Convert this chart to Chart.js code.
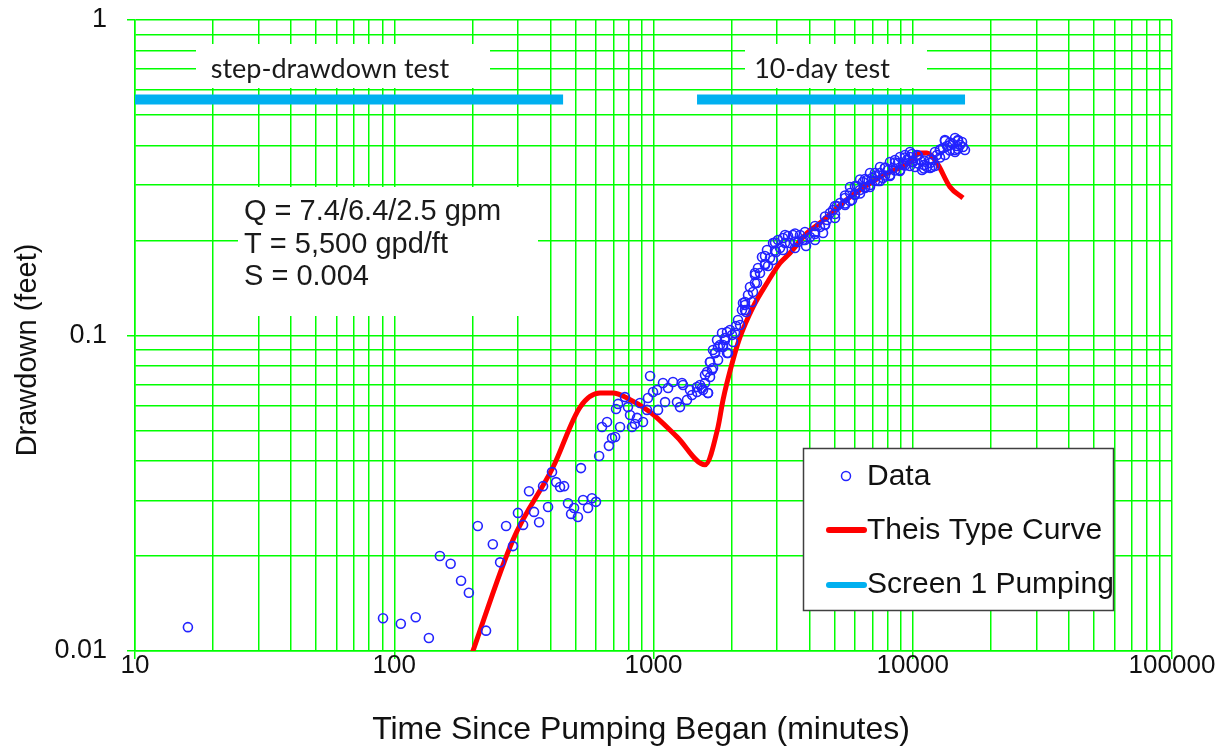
<!DOCTYPE html>
<html>
<head>
<meta charset="utf-8">
<script src="https://cdn.jsdelivr.net/npm/chart.js@4.4.1/dist/chart.umd.min.js"></script>
<style>
  html, body { margin: 0; padding: 0; background: #ffffff; }
  #wrap { position: relative; width: 1225px; height: 750px; }
  canvas { display: block; }
</style>
</head>
<body>
<div id="wrap"><canvas id="c" width="1225" height="750"></canvas></div>
<script>
// ---------------- data ----------------
const dataTime = [
  16.0, 90.5, 106, 121, 136, 150, 165, 181, 194, 210, 226, 240, 256, 270, 287, 300, 314, 331, 346, 362,
  375, 392, 406, 421, 436, 452, 468, 481, 494, 511, 525, 535, 559, 579, 600, 617, 633, 662, 673, 692,
  711, 717, 730, 743, 776, 797, 812, 826, 848, 864, 887, 911, 944, 970, 952, 996, 1041, 1032, 1088, 1138,
  1108, 1189, 1232, 1288, 1265, 1346, 1408, 1472, 1538, 1580, 1622, 1652, 1697, 1727, 1774, 1854, 1939, 2026,
  1300, 1383, 1472, 1552, 1580, 1623, 1608, 1652, 1652, 1696, 1727, 1758, 1774, 1838, 1854, 1921, 1921, 1973,
  2063, 2118, 2194, 2254, 2214, 2356, 2315, 2399, 2463, 2507, 2575, 2621, 2692, 2740, 2814, 2891, 2891, 3021,
  3159, 3159, 3303, 3452, 3514, 3609, 3773, 3875, 4015, 4198, 4387, 4507, 4669, 4795, 4925, 5104, 5242, 5480,
  5728, 5831, 6095, 6259, 6428, 6660, 6840, 7151, 7476, 7678, 8024, 8391, 8773, 9172, 9502, 9759, 10023, 10380,
  10670, 11050, 11350, 11660, 11970, 12400, 12740, 13080, 13560, 13920, 14300, 14820, 15220, 15620, 15900, 15490, 14560,
  5986, 6545, 6963, 7345, 7816, 8170, 8540, 8930, 9335, 10200, 10860, 11870, 13310, 14950,
  5013, 4587, 5480, 4198, 3674, 3362, 3076, 2969, 2765, 2530, 2420, 2274, 2157, 1887,
  2254, 2254, 2463, 2463, 2692, 2692, 2942, 2942, 3216, 3216, 3514, 3514, 3840, 3840, 4198, 4198,
  4587, 4587, 5013, 5013, 5480, 5480, 5986, 5986, 6545, 6545, 7151, 7151, 7816, 7816, 8540, 8540,
  9335, 9335, 9934, 9934, 10480, 10480, 11050, 11050, 11660, 11660, 12740, 12740, 13920, 13920, 14940, 14940,
  1512, 1681, 1805, 1887, 2008, 2081,
  5728, 5728, 6259, 6259, 6840, 6840, 7476, 7476, 8170, 8170, 8930, 8930, 9759, 9759, 12180, 12180, 13310, 13310, 14560, 14560
];
const dataDrawdown = [
  0.0119, 0.0127, 0.0122, 0.0128, 0.0110, 0.0200, 0.0189, 0.0167, 0.0153, 0.0249, 0.0116, 0.0218, 0.0191, 0.0249, 0.0215, 0.0274, 0.0251, 0.0321, 0.0276, 0.0256,
  0.0333, 0.0286, 0.0369, 0.0343, 0.0331, 0.0333, 0.0294, 0.0272, 0.0284, 0.0266, 0.0380, 0.0301, 0.0284, 0.0305, 0.0297, 0.0415, 0.0513, 0.0532, 0.0447, 0.0473,
  0.0477, 0.0585, 0.0607, 0.0513, 0.0638, 0.0593, 0.0560, 0.0513, 0.0524, 0.0548, 0.0611, 0.0532, 0.0581, 0.0744, 0.0634, 0.0662, 0.0581, 0.0672, 0.0707, 0.0682,
  0.0615, 0.0712, 0.0615, 0.0707, 0.0593, 0.0625, 0.0648, 0.0662, 0.0682, 0.0750, 0.0657, 0.0824, 0.0789, 0.0880, 0.0919, 0.0933, 0.0880, 0.0954,
  0.0697, 0.0672, 0.0687, 0.0672, 0.0707, 0.0657, 0.0766, 0.0739, 0.0824, 0.0900, 0.0880, 0.0968, 0.0836, 0.1018, 0.0919, 0.1026, 0.0880, 0.1041,
  0.1018, 0.1120, 0.1205, 0.1249, 0.1268, 0.1424, 0.1344, 0.1277, 0.1578, 0.1467, 0.1578, 0.1774, 0.1673, 0.1866, 0.1761, 0.1964, 0.1735, 0.2007,
  0.2037, 0.1866, 0.2067, 0.2082, 0.1894, 0.1978, 0.2007, 0.1921, 0.2052, 0.2128, 0.2208, 0.2113, 0.2323, 0.2445, 0.2499, 0.2573, 0.2630, 0.2728,
  0.2830, 0.2689, 0.2977, 0.2892, 0.3065, 0.3111, 0.2999, 0.3203, 0.3273, 0.3157, 0.3345, 0.3395, 0.3521, 0.3470, 0.3599, 0.3679, 0.3548, 0.3734,
  0.3599, 0.3470, 0.3420, 0.3521, 0.3599, 0.3734, 0.3873, 0.3930, 0.3988, 0.4018, 0.4046, 0.3988, 0.4018, 0.3959, 0.3873, 0.4105, 0.3873,
  0.2788, 0.2935, 0.3157, 0.3088, 0.3395, 0.3227, 0.3599, 0.3345, 0.3734, 0.3420, 0.3345, 0.3420, 0.4166, 0.4166,
  0.2357, 0.2240, 0.2592, 0.2007, 0.2082, 0.1964, 0.1894, 0.1839, 0.1661, 0.1636, 0.1374, 0.1187, 0.1080, 0.0968,
  0.1277, 0.1205, 0.1555, 0.1467, 0.1786, 0.1685, 0.1972, 0.1860, 0.2082, 0.1964, 0.2105, 0.1986, 0.2128, 0.2007, 0.2224, 0.2098,
  0.2384, 0.2248, 0.2573, 0.2427, 0.2778, 0.2620, 0.2977, 0.2809, 0.3133, 0.2956, 0.3273, 0.3088, 0.3408, 0.3215, 0.3533, 0.3334,
  0.3666, 0.3458, 0.3761, 0.3548, 0.3720, 0.3509, 0.3587, 0.3382, 0.3613, 0.3395, 0.3886, 0.3666, 0.4091, 0.3858, 0.4136, 0.3900,
  0.0697, 0.0777, 0.0933, 0.0982, 0.1004, 0.1072,
  0.2956, 0.2669, 0.3122, 0.2819, 0.3273, 0.2956, 0.3420, 0.3088, 0.3548, 0.3203, 0.3679, 0.3322, 0.3816, 0.3445, 0.3816, 0.3445, 0.4136, 0.3734, 0.4227, 0.3816
];

const theisTime = [195, 287, 410, 521, 622, 698, 790, 970, 1232, 1580, 1774, 1854, 2026, 2157, 2420, 2740, 3076, 3362, 3909, 4387, 5728, 7476, 9759, 10670, 11350, 12400, 13920, 15620];
const theisDrawdown = [0.0093, 0.0225, 0.0383, 0.0593, 0.0657, 0.0657, 0.0634, 0.0572, 0.0477, 0.0389, 0.0513, 0.0625, 0.0836, 0.0989, 0.1231, 0.1467, 0.1697, 0.1826, 0.2113, 0.2273, 0.2748, 0.3180, 0.3548, 0.3788, 0.3788, 0.3521, 0.2956, 0.2728];

const pumpStepTime = [10, 448];
const pumpTenDayTime = [1472, 15910];
const pumpLevel = [0.56, 0.56];

const xTickValues = [10, 100, 1000, 10000, 100000];
const xTickLabels = ['10', '100', '1000', '10000', '100000'];
const yTickValues = [0.01, 0.1, 1];
const yTickLabels = ['0.01', '0.1', '1'];

const seriesNames = ['Data', 'Theis Type Curve', 'Screen 1 Pumping'];
const noteLines = ['Q = 7.4/6.4/2.5 gpm', 'T = 5,500 gpd/ft', 'S = 0.004'];
const phaseLabels = ['step-drawdown test', '10-day test'];
const axisTitles = ['Time Since Pumping Began (minutes)', 'Drawdown (feet)'];

// ---------------- styling ----------------
const GREEN = '#00ff00';
const BLUE = '#2323ff';
const RED = '#ff0000';
const CYAN = '#00b0f0';
const INK = '#111111';
const SANS = '"Liberation Sans", Arial, sans-serif';

function logGrid(min, max) {
  const out = [];
  for (let d = min; d < max * 0.999; d *= 10) {
    for (let k = 1; k <= 9; k++) out.push(+(d * k).toPrecision(6));
  }
  out.push(max);
  return out;
}

function pairs(xs, ys) { return xs.map((x, i) => ({ x: x, y: ys[i] })); }

const annotationPlugin = {
  id: 'annotations',
  beforeDatasetsDraw(chart) {
    const ctx = chart.ctx;
    ctx.save();
    ctx.fillStyle = '#ffffff';
    // white text boxes covering the grid
    ctx.fillRect(196, 44, 294, 44);
    ctx.fillRect(745, 44, 182, 44);
    ctx.fillRect(238, 187, 300, 129);
    ctx.fillStyle = '#1a1a1a';
    ctx.textBaseline = 'middle';
    ctx.textAlign = 'center';
    ctx.font = '27px Lato, "Open Sans", sans-serif';
    ctx.fillText(phaseLabels[0], 330, 69);
    ctx.fillText(phaseLabels[1], 822, 69);
    ctx.textAlign = 'left';
    ctx.font = '29px ' + SANS;
    noteLines.forEach((t, i) => ctx.fillText(t, 244, 212 + i * 32.5));

    // legend
    ctx.fillStyle = '#ffffff';
    ctx.fillRect(803, 448, 310, 162);
    ctx.strokeStyle = '#404040';
    ctx.lineWidth = 1.5;
    ctx.strokeRect(803.5, 448.5, 310, 162);
    ctx.beginPath();
    ctx.strokeStyle = BLUE; ctx.lineWidth = 1.5;
    ctx.arc(846, 476, 4.5, 0, Math.PI * 2);
    ctx.stroke();
    ctx.lineCap = 'round';
    ctx.beginPath(); ctx.strokeStyle = RED; ctx.lineWidth = 6;
    ctx.moveTo(829, 530); ctx.lineTo(864, 530); ctx.stroke();
    ctx.beginPath(); ctx.strokeStyle = CYAN; ctx.lineWidth = 6;
    ctx.moveTo(829, 585); ctx.lineTo(864, 585); ctx.stroke();
    ctx.fillStyle = INK;
    ctx.font = '30px ' + SANS;
    ctx.textAlign = 'left';
    ctx.fillText(seriesNames[0], 867, 477);
    ctx.fillText(seriesNames[1], 867, 531);
    ctx.fillText(seriesNames[2], 867, 585);
    ctx.restore();
  },
  afterDraw(chart) {
    const ctx = chart.ctx;
    ctx.save();
    ctx.fillStyle = INK;
    ctx.textAlign = 'center';
    ctx.textBaseline = 'middle';
    ctx.font = '32px ' + SANS;
    ctx.fillText(axisTitles[0], 641, 730);
    ctx.translate(28, 350);
    ctx.rotate(-Math.PI / 2);
    ctx.font = '29px ' + SANS;
    ctx.fillText(axisTitles[1], 0, 0);
    ctx.restore();
  }
};

const chart = new Chart(document.getElementById('c'), {
  type: 'scatter',
  data: {
    datasets: [
      {
        label: seriesNames[0],
        data: pairs(dataTime, dataDrawdown),
        showLine: false,
        pointStyle: 'circle',
        pointRadius: 4.5,
        pointBorderWidth: 1.6,
        pointBorderColor: BLUE,
        pointBackgroundColor: 'rgba(0,0,0,0)',
        pointHoverRadius: 4.5,
        order: 1
      },
      {
        label: seriesNames[1],
        data: pairs(theisTime, theisDrawdown),
        showLine: true,
        borderColor: RED,
        borderWidth: 5,
        pointRadius: 0,
        cubicInterpolationMode: 'monotone',
        borderJoinStyle: 'round',
        order: 3
      },
      {
        label: seriesNames[2],
        data: pairs(pumpStepTime, pumpLevel),
        showLine: true,
        borderColor: CYAN,
        borderWidth: 10,
        pointRadius: 0,
        order: 2
      },
      {
        label: seriesNames[2] + ' (10-day)',
        data: pairs(pumpTenDayTime, pumpLevel),
        showLine: true,
        borderColor: CYAN,
        borderWidth: 10,
        pointRadius: 0,
        order: 2
      }
    ]
  },
  options: {
    responsive: false,
    animation: false,
    events: [],
    layout: { autoPadding: false, padding: { top: 20, right: 53, left: 0, bottom: 0 } },
    plugins: { legend: { display: false }, tooltip: { enabled: false } },
    scales: {
      x: {
        type: 'logarithmic',
        position: 'bottom',
        min: 10, max: 100000,
        afterFit(s) { s.height = 99; s.paddingLeft = 0; s.paddingRight = 0; },
        afterBuildTicks(s) { s.ticks = logGrid(10, 100000).map(v => ({ value: v })); },
        ticks: {
          autoSkip: false, maxRotation: 0, minRotation: 0, padding: -9,
          color: INK,
          font: { family: SANS, size: 26 },
          callback(v) { const i = xTickValues.indexOf(+v); return i >= 0 ? xTickLabels[i] : ''; }
        },
        grid: {
          color: GREEN, lineWidth: 1.5, tickLength: 8,
          tickColor(c) { return (c.tick && xTickValues.indexOf(c.tick.value) >= 0) ? GREEN : 'rgba(0,0,0,0)'; }
        },
        border: { color: GREEN, width: 1.5 },
        title: { display: false }
      },
      y: {
        type: 'logarithmic',
        position: 'left',
        min: 0.01, max: 1,
        afterFit(s) { s.width = 135; s.paddingTop = 0; s.paddingBottom = 0; },
        afterBuildTicks(s) { s.ticks = logGrid(0.01, 1).map(v => ({ value: v })); },
        ticks: {
          autoSkip: false, padding: 20,
          color: INK,
          font: { family: SANS, size: 27 },
          callback(v) {
            const i = yTickValues.findIndex(t => Math.abs(t - v) < 1e-9);
            return i >= 0 ? yTickLabels[i] : '';
          }
        },
        grid: {
          color: GREEN, lineWidth: 1.5, tickLength: 8,
          tickColor(c) { return (c.tick && yTickValues.some(t => Math.abs(t - c.tick.value) < 1e-9)) ? GREEN : 'rgba(0,0,0,0)'; }
        },
        border: { color: GREEN, width: 1.5 },
        title: { display: false }
      }
    }
  },
  plugins: [annotationPlugin]
});
</script>
</body>
</html>
